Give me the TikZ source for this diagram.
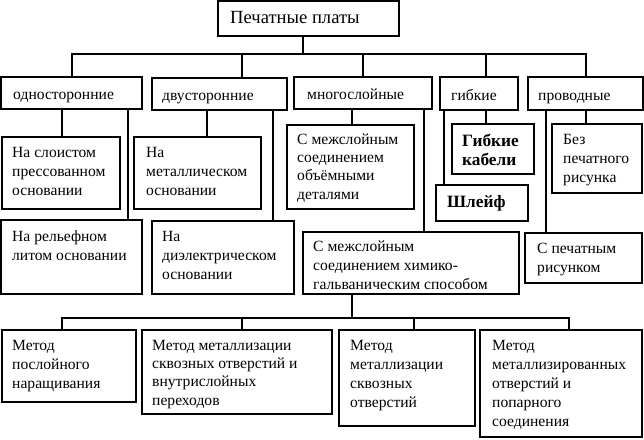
\documentclass[tikz,border=0pt]{standalone}
\usepackage{fontspec}
\setmainfont{Liberation Serif}
\newcommand\fst{\rule{0pt}{11pt}}
\newcommand\fsb{\rule{0pt}{13pt}}
\newcommand\mkbox[5]{\node[bx, minimum width={(#4-#2)*1pt}, minimum height={(#5-#3)*1pt}] (#1) at (#2,#3) {};}
\begin{document}
\begin{tikzpicture}[x=1pt,y=-1pt,
  bx/.style={draw, line width=2pt, inner sep=0pt, outer sep=0pt, anchor=north west},
  txt/.style={anchor=north west, inner sep=0pt, align=left, font=\fontsize{15.6}{19}\selectfont},
  btxt/.style={anchor=north west, inner sep=0pt, align=left, font=\fontsize{17.3}{19}\selectfont\bfseries},
  hd/.style={anchor=base west, inner sep=0pt, font=\fontsize{15.6}{19}\selectfont},
  conn/.style={line width=2pt}]
\useasboundingbox (0,0) rectangle (644,439);
% boxes
\mkbox{top}{218}{1}{399}{36}
\mkbox{r1a}{1}{77}{142}{109}
\mkbox{r1b}{152}{78}{287}{110}
\mkbox{r1c}{294}{77}{432}{109}
\mkbox{r1d}{440}{77}{518}{110}
\mkbox{r1e}{528}{77}{643}{110}
\mkbox{a1}{2}{137}{120}{209}
\mkbox{a2}{1}{220}{142}{294}
\mkbox{b1}{134}{137}{261}{209}
\mkbox{b2}{152}{221}{294}{294}
\mkbox{c1}{287}{125}{414}{209}
\mkbox{c2}{303}{232}{519}{294}
\mkbox{d1}{452}{124}{534}{174}
\mkbox{d2}{436}{185}{528}{221}
\mkbox{e1}{552}{124}{642}{193}
\mkbox{e2}{525}{233}{642}{283}
\mkbox{f1}{2}{330}{136}{402}
\mkbox{f2}{142}{330}{332}{414}
\mkbox{f3}{339}{330}{475}{426}
\mkbox{f4}{480}{330}{642}{437}
% texts
\node[hd, font=\fontsize{18.6}{20}\selectfont] (topt) at ([xshift=12pt,yshift=-22.5pt]top.north west) {Печатные платы};
\node[hd] (r1at) at ([xshift=12pt,yshift=10pt]r1a.south west) {односторонние};
\node[hd] (r1bt) at ([xshift=10pt,yshift=10pt]r1b.south west) {двусторонние};
\node[hd] (r1ct) at ([xshift=13pt,yshift=10pt]r1c.south west) {многослойные};
\node[hd] (r1dt) at ([xshift=11pt,yshift=10pt]r1d.south west) {гибкие};
\node[hd] (r1et) at ([xshift=10pt,yshift=10pt]r1e.south west) {проводные};
\node[txt] (a1t) at ([xshift=10pt,yshift=-9pt]a1.north west) {\fst На слоистом\\прессованном\\основании};
\node[txt] (a2t) at ([xshift=11pt,yshift=-10pt]a2.north west) {\fst На рельефном\\литом основании};
\node[txt] (b1t) at ([xshift=12pt,yshift=-9pt]b1.north west) {\fst На\\металлическом\\основании};
\node[txt] (b2t) at ([xshift=10pt,yshift=-9pt]b2.north west) {\fst На\\диэлектрическом\\основании};
\node[txt, font=\fontsize{15.6}{18.3}\selectfont] (c1t) at ([xshift=10pt,yshift=-8pt]c1.north west) {\fst С межслойным\\соединением\\объёмными\\деталями};
\node[txt] (c2t) at ([xshift=10pt,yshift=-8pt]c2.north west) {\fst С межслойным\\соединением химико-\\гальваническим способом};
\node[btxt] (d1t) at ([xshift=10pt,yshift=-9pt]d1.north west) {\fsb Гибкие\\кабели};
\node[btxt] (d2t) at ([xshift=11pt,yshift=-9pt]d2.north west) {\fsb Шлейф};
\node[txt] (e1t) at ([xshift=11pt,yshift=-9pt]e1.north west) {\fst Без\\печатного\\рисунка};
\node[txt] (e2t) at ([xshift=12pt,yshift=-9pt]e2.north west) {\fst С печатным\\рисунком};
\node[txt] (f1t) at ([xshift=10pt,yshift=-9pt]f1.north west) {\fst Метод\\послойного\\наращивания};
\node[txt, font=\fontsize{15.6}{18.3}\selectfont] (f2t) at ([xshift=10pt,yshift=-9pt]f2.north west) {\fst Метод металлизации\\сквозных отверстий и\\внутрислойных\\переходов};
\node[txt] (f3t) at ([xshift=11pt,yshift=-9pt]f3.north west) {\fst Метод\\металлизации\\сквозных\\отверстий};
\node[txt] (f4t) at ([xshift=12pt,yshift=-9pt]f4.north west) {\fst Метод\\металлизированных\\отверстий и\\попарного\\соединения};
% connector coordinates
\coordinate (bus) at (0,54);
\coordinate (bus2) at (0,318);
\coordinate (x303) at (303,0);
\coordinate (x72) at (72,0);
\coordinate (x242) at (242,0);
\coordinate (x363) at (363,0);
\coordinate (x486) at (486,0);
\coordinate (x586) at (586,0);
\coordinate (x62) at (62,0);
\coordinate (x128) at (128,0);
\coordinate (x207) at (207,0);
\coordinate (x273) at (273,0);
\coordinate (x352) at (352,0);
\coordinate (x424) at (424,0);
\coordinate (x444) at (444,0);
\coordinate (x546) at (546,0);
\coordinate (x414) at (414,0);
\coordinate (x569) at (569,0);
% top tree
\draw[conn] (x303 |- top.south) -- (x303 |- bus);
\draw[conn] (x72 |- r1a.north) |- (x586 |- bus) -- (x586 |- r1e.north);
\draw[conn] (x242 |- bus) -- (x242 |- r1b.north);
\draw[conn] (x363 |- bus) -- (x363 |- r1c.north);
\draw[conn] (x486 |- bus) -- (x486 |- r1d.north);
% second level
\draw[conn] (x62 |- r1a.south) -- (x62 |- a1.north);
\draw[conn] (x128 |- r1a.south) -- (x128 |- a2.north);
\draw[conn] (x207 |- r1b.south) -- (x207 |- b1.north);
\draw[conn] (x273 |- r1b.south) -- (x273 |- b2.north);
\draw[conn] (x352 |- r1c.south) -- (x352 |- c1.north);
\draw[conn] (x424 |- r1c.south) -- (x424 |- c2.north);
\draw[conn] (x486 |- r1d.south) -- (x486 |- d1.north);
\draw[conn] (x444 |- r1d.south) -- (x444 |- d2.north);
\draw[conn] (x586 |- r1e.south) -- (x586 |- e1.north);
\draw[conn] (x546 |- r1e.south) -- (x546 |- e2.north);
% bottom tree
\draw[conn] (x352 |- c2.south) -- (x352 |- bus2);
\draw[conn] (x62 |- f1.north) |- (x569 |- bus2) -- (x569 |- f4.north);
\draw[conn] (x242 |- bus2) -- (x242 |- f2.north);
\draw[conn] (x414 |- bus2) -- (x414 |- f3.north);
\end{tikzpicture}
\end{document}
